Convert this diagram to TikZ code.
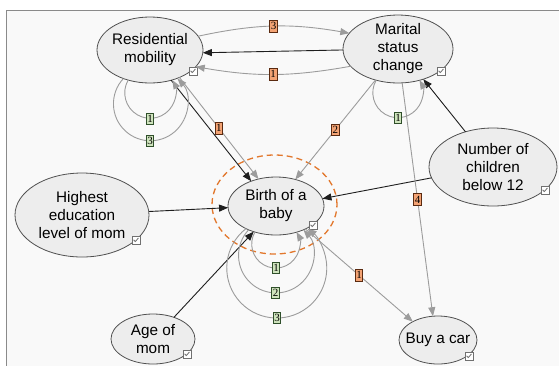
\documentclass[tikz,border=0pt]{standalone}
\usepackage{fontspec}
\setmainfont{Liberation Sans}
\newfontfamily\labfont{Liberation Serif}
\usetikzlibrary{shapes.geometric,arrows.meta}

\definecolor{edgegray}{HTML}{9C9C9C}
\definecolor{edgeblack}{HTML}{1E1E1E}
\definecolor{nodefill}{HTML}{EDEDED}
\definecolor{nodedraw}{HTML}{505050}
\definecolor{framec}{HTML}{8A8A8A}
\definecolor{bgc}{HTML}{F9F9F9}
\definecolor{ofill}{HTML}{F3A374}
\definecolor{odraw}{HTML}{5A2A10}
\definecolor{gfill}{HTML}{CFE4BD}
\definecolor{gdraw}{HTML}{2F4F2A}
\definecolor{ringc}{HTML}{E2772C}
\definecolor{ckgray}{HTML}{707070}

\tikzset{
  ent/.style={ellipse, draw=nodedraw, fill=nodefill, line width=0.8pt,
    inner sep=-30pt, outer sep=0pt, align=center,
    font=\fontsize{15.3}{18}\selectfont},
  ring/.style={ellipse, draw=ringc, line width=1.3pt,
    dash pattern=on 6pt off 4pt, inner sep=0pt, outer sep=0pt},
  gedge/.style={draw=edgegray, line width=0.9pt, -{Triangle[length=9pt,width=7pt]}},
  bedge/.style={draw=edgeblack, line width=0.9pt, -{Triangle[length=9pt,width=7pt]}},
  lab/.style={draw, line width=0.7pt, inner sep=0pt, minimum width=7.5pt,
    minimum height=11.5pt, font=\labfont\fontsize{11}{11}\selectfont},
  olab/.style={lab, fill=ofill, draw=odraw},
  glab/.style={lab, fill=gfill, draw=gdraw},
  chk/.style={draw=ckgray, fill=white, minimum size=8pt, inner sep=0pt,
    line width=0.6pt,
    path picture={\draw[ckgray, line width=0.8pt]
      ([shift={(-2.4pt,0.2pt)}]path picture bounding box.center)
      -- ++(1.7pt,-1.8pt) -- ++(3.1pt,3.6pt);}}
}

\begin{document}
\begin{tikzpicture}[x=1pt,y=1pt]
  \useasboundingbox (0,0) rectangle (559,-365);
  % canvas and frame
  \fill[white] (0,0) rectangle (559,-365);
  \draw[framec, line width=1.6pt, fill=bgc] (6.5,-10.5) rectangle (620,-420);

  % highlight ring around the focal variable
  \node[ring, minimum width=125pt, minimum height=99pt] (focus) at (274.5,-204.5) {};

  % variables
  \node[ent, minimum width=106pt, minimum height=66pt] (res) at (150,-50) {Residential\\mobility};
  \node[ent, minimum width=110pt, minimum height=68pt] (mar) at (398,-49) {Marital\\status\\change};
  \node[ent, minimum width=128pt, minimum height=78pt] (num) at (493,-167) {Number of\\children\\below 12};
  \node[ent, minimum width=134pt, minimum height=84pt] (edu) at (82,-215) {Highest\\education\\level of mom};
  \node[ent, minimum width=96pt, minimum height=58pt] (birth) at (276,-206) {Birth of a\\baby};
  \node[ent, minimum width=84pt, minimum height=50pt] (age) at (153,-339) {Age of\\mom};
  \node[ent, minimum width=78pt, minimum height=48pt] (car) at (438,-340) {Buy a car};

  % check boxes
  \node[chk] (res-ck) at (193,-71) {};
  \node[chk] (mar-ck) at (441,-71) {};
  \node[chk] (num-ck) at (545,-190) {};
  \node[chk] (edu-ck) at (136,-240) {};
  \node[chk] (birth-ck) at (313,-225) {};
  \node[chk] (age-ck) at (187,-354) {};
  \node[chk] (car-ck) at (469,-356) {};

  % links between residential mobility and marital status
  \draw[gedge] (res.16) to[bend left=11] node[olab] (l-rm) {3} (mar.162);
  \draw[bedge] (mar.181) -- (res.-3);
  \draw[gedge] (mar.200) to[bend left=10] node[olab] (l-mr) {1} (res.-20);

  % links into birth of a baby
  \draw[bedge] (res.-55) -- (birth.135);
  \draw[gedge] (res.-43) -- node[olab] (l-rb) {1} (birth.123);
  \draw[gedge] (mar.234) -- node[olab] (l-mb) {2} (birth.54);
  \draw[bedge] (num.190) -- (birth.9);
  \draw[bedge] (edu.3) -- (birth.182);
  \draw[bedge] (age.46) -- (birth.229);

  % other links
  \draw[bedge] (num.128) -- (mar.-50);
  \draw[gedge] (mar.-83) -- node[olab] (l-mc) {4} (car.102);
  \draw[gedge] (birth.-38) -- node[olab] (l-bc) {1} (car.144);

  % self loops
  \draw[gedge] (res.234) arc[start angle=150, end angle=390, radius=25.5];
  \draw[gedge] (res.227) arc[start angle=137, end angle=403, radius=37];
  \node[glab] (l-rr1) at (150,-119) {1};
  \node[glab] (l-rr3) at (150,-141) {3};

  \draw[gedge] (mar.235) arc[start angle=150, end angle=390, radius=25];
  \node[glab] (l-mm1) at (398,-118) {1};

  \draw[gedge] (birth.231) arc[start angle=150, end angle=390, radius=24];
  \draw[gedge] (birth.221) arc[start angle=137, end angle=403, radius=37.5];
  \draw[gedge] (birth.217) arc[start angle=128, end angle=412, radius=50];
  \node[glab] (l-bb1) at (276,-268) {1};
  \node[glab] (l-bb2) at (275.5,-293) {2};
  \node[glab] (l-bb3) at (277,-318) {3};
\end{tikzpicture}
\end{document}
